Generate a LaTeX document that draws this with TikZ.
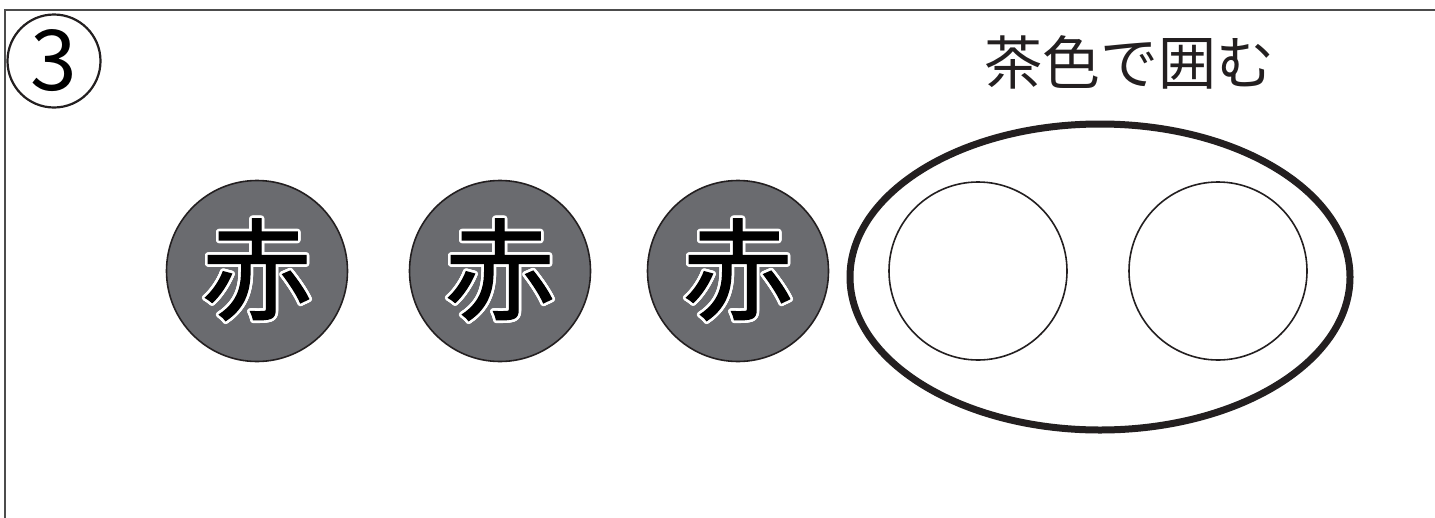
\documentclass[tikz,border=0pt]{standalone}
\usetikzlibrary{shapes.geometric}
\usepackage{fontspec}
\setmainfont{Noto Sans CJK JP}
\newfontfamily\jp{Noto Sans CJK JP}
\newfontfamily\jpbold{Noto Sans CJK JP}[FakeBold=1.2]
\usepackage{contour}
\contourlength{2.6pt}
\contournumber{24}
\definecolor{redfill}{HTML}{6A6B6F}
\definecolor{ink}{HTML}{231F20}
\begin{document}
\begin{tikzpicture}[x=1pt,y=-1pt,
  frame/.style={draw=black!70,line width=2pt},
  numcircle/.style={circle,draw=ink,line width=2.2pt,minimum size=93pt,inner sep=0pt,font=\jp\fontsize{84}{84}\selectfont},
  redball/.style={circle,draw=ink,line width=1.6pt,fill=redfill,minimum size=181pt,inner sep=0pt,font=\jpbold\fontsize{110}{110}\selectfont},
  emptyball/.style={circle,draw=ink,line width=1.6pt,minimum size=178pt,inner sep=0pt},
  ring/.style={ellipse,draw=ink,line width=7pt,minimum width=500pt,minimum height=306pt,inner sep=0pt},
  label/.style={font=\jp\fontsize{58}{58}\selectfont,text=ink}]
\useasboundingbox (0,0) rectangle (1435,517);
\fill[white] (0,0) rectangle (1435,517);
\draw[frame] (5,10) rectangle (1445,530);
\node[numcircle] (num) at (54,61) {\raisebox{1pt}{3}};
\node[label] (title) at (1129,62) {茶色で囲む};
\node[redball] (r1) at (257,271) {\contour{white}{赤}};
\node[redball] (r2) at (500,271) {\contour{white}{赤}};
\node[redball] (r3) at (738,271) {\contour{white}{赤}};
\node[ring] (ring) at (1100,277) {};
\node[emptyball] (b1) at (978,271) {};
\node[emptyball] (b2) at (1218,271) {};
\end{tikzpicture}
\end{document}
